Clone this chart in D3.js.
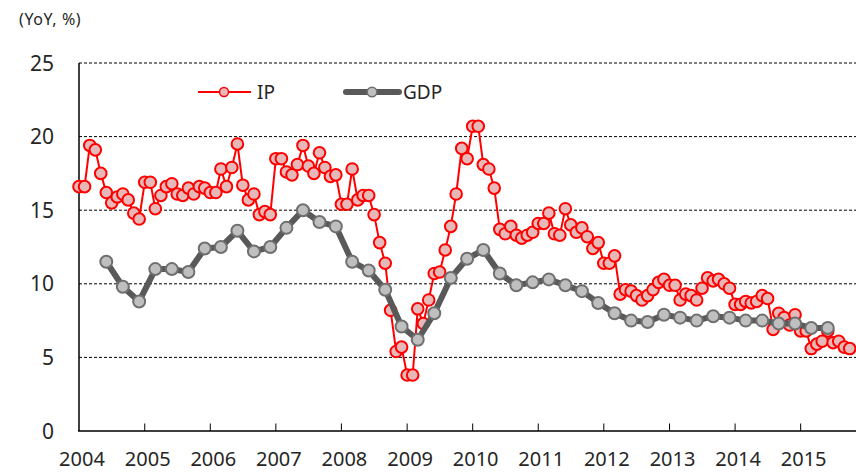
<!DOCTYPE html>
<html>
<head>
<meta charset="utf-8">
<script src="https://cdn.jsdelivr.net/npm/d3@7"></script>
<style>
  body { margin: 0; background: #fff; }
  text { font-family: "Noto Sans", "Open Sans", sans-serif; fill: #262626; }
</style>
</head>
<body>
<div id="chart"></div>
<script>
// industrial production, monthly yoy %, Jan 2004 - Oct 2015 (Jan = Feb)
var ipValues = [
  16.6,16.6,19.4,19.1,17.5,16.2,15.5,15.9,16.1,15.7,14.8,14.4,
  16.9,16.9,15.1,16.0,16.6,16.8,16.1,16.0,16.5,16.1,16.6,16.5,
  16.2,16.2,17.8,16.6,17.9,19.5,16.7,15.7,16.1,14.7,14.9,14.7,
  18.5,18.5,17.6,17.4,18.1,19.4,18.0,17.5,18.9,17.9,17.3,17.4,
  15.4,15.4,17.8,15.7,16.0,16.0,14.7,12.8,11.4,8.2,5.4,5.7,
  3.8,3.8,8.3,7.3,8.9,10.7,10.8,12.3,13.9,16.1,19.2,18.5,
  20.7,20.7,18.1,17.8,16.5,13.7,13.4,13.9,13.3,13.1,13.3,13.5,
  14.1,14.1,14.8,13.4,13.3,15.1,14.0,13.5,13.8,13.2,12.4,12.8,
  11.4,11.4,11.9,9.3,9.6,9.5,9.2,8.9,9.2,9.6,10.1,10.3,
  9.9,9.9,8.9,9.3,9.2,8.9,9.7,10.4,10.2,10.3,10.0,9.7,
  8.6,8.6,8.8,8.7,8.8,9.2,9.0,6.9,8.0,7.7,7.2,7.9,
  6.8,6.8,5.6,5.9,6.1,6.8,6.0,6.1,5.7,5.6
];
// real GDP, quarterly yoy %, 2004Q2 - 2015Q2
var gdpValues = [
  11.5,9.8,8.8,
  11.0,11.0,10.8,12.4,
  12.5,13.6,12.2,12.5,
  13.8,15.0,14.2,13.9,
  11.5,10.9,9.6,7.1,
  6.2,8.0,10.4,11.7,
  12.3,10.7,9.9,10.1,
  10.3,9.9,9.5,8.7,
  8.0,7.5,7.4,7.9,
  7.7,7.5,7.8,7.7,
  7.5,7.5,7.3,7.3,
  7.0,7.0
];
var tickYears = [2004,2005,2006,2007,2008,2009,2010,2011,2012,2013,2014,2015];
var yTicks = [0,5,10,15,20,25];

var width = 856, height = 472;

// month dates for the series
var ipDates = ipValues.map(function(v, i){ return new Date(2004, i, 1); });
var gdpDates = gdpValues.map(function(v, i){ return new Date(2004, 5 + i*3, 1); });

var svg = d3.select("#chart").append("svg")
  .attr("width", width)
  .attr("height", height);

var x = d3.scaleTime()
  .domain([new Date(2004,0,1), new Date(2016,0,1)])
  .range([79, 79 + 12*65.6]);
var y = d3.scaleLinear().domain([0,25]).range([431, 63]);

// title
svg.append("text").attr("x", 19).attr("y", 25)
  .style("font-size", "16px").style("letter-spacing", "0.6px").text("(YoY, %)");

// grid lines
svg.selectAll(".grid").data(yTicks.filter(function(d){ return d > 0; }))
  .enter().append("line")
  .attr("x1", 79).attr("x2", width)
  .attr("y1", function(d){ return y(d); })
  .attr("y2", function(d){ return y(d); })
  .attr("stroke", "#000").attr("stroke-width", 1)
  .attr("stroke-dasharray", "3,2");

// y labels
svg.selectAll(".ylab").data(yTicks).enter().append("text")
  .attr("x", 54).attr("y", function(d){ return y(d); })
  .attr("dy", "0.36em")
  .attr("text-anchor", "end")
  .style("font-size", "21px")
  .text(function(d){ return d; });

// axes lines
svg.append("line").attr("x1", 79).attr("x2", 79).attr("y1", y(25)).attr("y2", y(0))
  .attr("stroke", "#000").attr("stroke-width", 1.5);
svg.append("line").attr("x1", 78).attr("x2", width).attr("y1", y(0)).attr("y2", y(0))
  .attr("stroke", "#000").attr("stroke-width", 1.5);

// x ticks (inside, upward) and labels
svg.selectAll(".xtick").data(tickYears.slice(1)).enter().append("line")
  .attr("x1", function(d){ return x(new Date(d,0,1)); })
  .attr("x2", function(d){ return x(new Date(d,0,1)); })
  .attr("y1", y(0)).attr("y2", y(0) - 7.5)
  .attr("stroke", "#000").attr("stroke-width", 1);

svg.selectAll(".xlab").data(tickYears).enter().append("text")
  .attr("x", function(d){ return x(new Date(d,0,1)) + 3; })
  .attr("y", 466)
  .attr("text-anchor", "middle")
  .style("font-size", "20px")
  .text(function(d){ return d; });

// IP line
var lineIP = d3.line()
  .x(function(d, i){ return x(ipDates[i]); })
  .y(function(d){ return y(d); });
svg.append("path").datum(ipValues)
  .attr("d", lineIP)
  .attr("fill", "none").attr("stroke", "#ff0000").attr("stroke-width", 2);
svg.selectAll(".ipdot").data(ipValues).enter().append("circle")
  .attr("cx", function(d, i){ return x(ipDates[i]); })
  .attr("cy", function(d){ return y(d); })
  .attr("r", 5.8)
  .attr("fill", "#e6b9b8").attr("stroke", "#ff0000").attr("stroke-width", 2);

// GDP line (drawn on top)
var lineGDP = d3.line()
  .x(function(d, i){ return x(gdpDates[i]); })
  .y(function(d){ return y(d); });
svg.append("path").datum(gdpValues)
  .attr("d", lineGDP)
  .attr("fill", "none").attr("stroke", "#595959").attr("stroke-width", 6)
  .attr("stroke-linejoin", "round");
svg.selectAll(".gdpdot").data(gdpValues).enter().append("circle")
  .attr("cx", function(d, i){ return x(gdpDates[i]); })
  .attr("cy", function(d){ return y(d); })
  .attr("r", 6)
  .attr("fill", "#bfbfbf").attr("stroke", "#6f6f6f").attr("stroke-width", 2);

// legend
var lg = svg.append("g");
lg.append("line").attr("x1", 198).attr("x2", 251).attr("y1", 92).attr("y2", 92)
  .attr("stroke", "#ff0000").attr("stroke-width", 2);
lg.append("circle").attr("cx", 224).attr("cy", 92).attr("r", 4.5)
  .attr("fill", "#e6b9b8").attr("stroke", "#ff0000").attr("stroke-width", 1.5);
lg.append("text").attr("x", 257).attr("y", 92).attr("dy", "0.36em")
  .style("font-size", "19px").text("IP");

lg.append("line").attr("x1", 346).attr("x2", 399).attr("y1", 92).attr("y2", 92)
  .attr("stroke", "#595959").attr("stroke-width", 6).attr("stroke-linecap", "round");
lg.append("circle").attr("cx", 372).attr("cy", 92).attr("r", 4.8)
  .attr("fill", "#bfbfbf").attr("stroke", "#6f6f6f").attr("stroke-width", 1.5);
lg.append("text").attr("x", 403).attr("y", 92).attr("dy", "0.36em")
  .style("font-size", "19px").text("GDP");
</script>
</body>
</html>
